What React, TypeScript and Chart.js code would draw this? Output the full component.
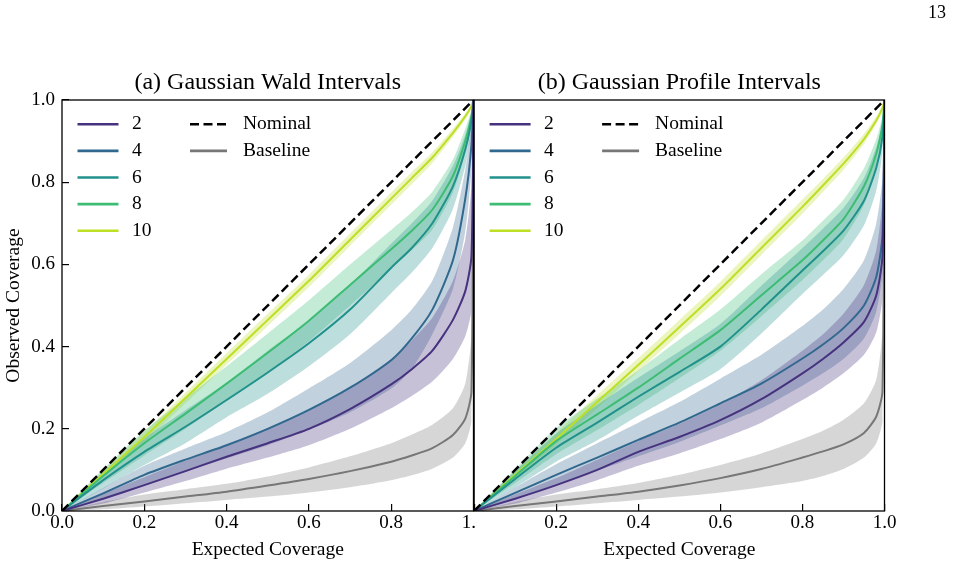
import React, { useEffect, useRef } from 'react';
import { Chart, registerables } from 'chart.js';

Chart.register(...registerables);

// Expected coverage grid shared by every curve
const EXPECTED = [0, 0.1, 0.2, 0.3, 0.4, 0.5, 0.6, 0.7, 0.8, 0.85, 0.9, 0.95, 0.98, 0.995, 1];

// (a) Gaussian Wald intervals: mean observed coverage and band edges
const WALD_2_MEAN = [0, 0.03, 0.063, 0.097, 0.132, 0.165, 0.2, 0.248, 0.308, 0.345, 0.39, 0.465, 0.535, 0.62, 1];
const WALD_2_LO = [0, 0.018, 0.045, 0.073, 0.103, 0.13, 0.16, 0.2, 0.25, 0.28, 0.315, 0.37, 0.425, 0.49, 0.92];
const WALD_2_HI = [0, 0.042, 0.082, 0.122, 0.162, 0.202, 0.245, 0.3, 0.37, 0.415, 0.47, 0.56, 0.66, 0.79, 1];

const WALD_4_MEAN = [0, 0.043, 0.088, 0.125, 0.16, 0.2, 0.246, 0.3, 0.367, 0.42, 0.49, 0.61, 0.76, 0.89, 1];
const WALD_4_LO = [0, 0.03, 0.064, 0.096, 0.128, 0.16, 0.197, 0.24, 0.298, 0.345, 0.43, 0.54, 0.68, 0.83, 1];
const WALD_4_HI = [0, 0.056, 0.11, 0.152, 0.192, 0.24, 0.298, 0.36, 0.44, 0.49, 0.56, 0.69, 0.83, 0.94, 1];

const WALD_6_MEAN = [0, 0.075, 0.144, 0.205, 0.27, 0.337, 0.408, 0.49, 0.592, 0.64, 0.7, 0.79, 0.88, 0.95, 1];
const WALD_6_LO = [0, 0.055, 0.112, 0.165, 0.228, 0.285, 0.352, 0.43, 0.53, 0.58, 0.64, 0.735, 0.84, 0.925, 1];
const WALD_6_HI = [0, 0.095, 0.176, 0.245, 0.312, 0.39, 0.462, 0.55, 0.65, 0.7, 0.755, 0.84, 0.915, 0.97, 1];

const WALD_8_MEAN = [0, 0.085, 0.165, 0.237, 0.31, 0.385, 0.463, 0.55, 0.637, 0.682, 0.733, 0.815, 0.9, 0.96, 1];
const WALD_8_LO = [0, 0.068, 0.135, 0.2, 0.268, 0.338, 0.413, 0.5, 0.59, 0.635, 0.685, 0.775, 0.87, 0.94, 1];
const WALD_8_HI = [0, 0.102, 0.195, 0.275, 0.352, 0.432, 0.513, 0.6, 0.684, 0.727, 0.777, 0.855, 0.93, 0.975, 1];

const WALD_10_MEAN = [0, 0.09, 0.18, 0.275, 0.37, 0.465, 0.56, 0.66, 0.76, 0.81, 0.86, 0.92, 0.96, 0.985, 1];
const WALD_10_LO = [0, 0.082, 0.168, 0.262, 0.356, 0.45, 0.545, 0.645, 0.745, 0.795, 0.847, 0.91, 0.953, 0.98, 1];
const WALD_10_HI = [0, 0.098, 0.193, 0.288, 0.384, 0.48, 0.575, 0.675, 0.775, 0.825, 0.873, 0.93, 0.967, 0.99, 1];

const WALD_BASE_MEAN = [0, 0.012, 0.023, 0.035, 0.047, 0.062, 0.078, 0.097, 0.12, 0.135, 0.153, 0.185, 0.225, 0.29, 1];
const WALD_BASE_LO = [0, 0.004, 0.011, 0.019, 0.027, 0.035, 0.045, 0.058, 0.075, 0.087, 0.103, 0.13, 0.165, 0.22, 0.85];
const WALD_BASE_HI = [0, 0.022, 0.04, 0.053, 0.066, 0.084, 0.106, 0.133, 0.165, 0.186, 0.21, 0.25, 0.31, 0.43, 1];

// (b) Gaussian profile intervals
const PROF_2_MEAN = [0, 0.03, 0.063, 0.1, 0.144, 0.18, 0.221, 0.272, 0.335, 0.37, 0.41, 0.46, 0.525, 0.62, 1];
const PROF_2_LO = [0, 0.018, 0.045, 0.075, 0.11, 0.14, 0.175, 0.215, 0.27, 0.3, 0.335, 0.38, 0.435, 0.52, 0.92];
const PROF_2_HI = [0, 0.04, 0.08, 0.125, 0.17, 0.212, 0.26, 0.318, 0.39, 0.43, 0.48, 0.55, 0.635, 0.76, 1];

const PROF_4_MEAN = [0, 0.044, 0.088, 0.13, 0.173, 0.215, 0.262, 0.31, 0.371, 0.405, 0.445, 0.5, 0.57, 0.67, 1];
const PROF_4_LO = [0, 0.03, 0.064, 0.098, 0.133, 0.168, 0.208, 0.25, 0.305, 0.335, 0.37, 0.42, 0.485, 0.58, 1];
const PROF_4_HI = [0, 0.058, 0.114, 0.165, 0.215, 0.265, 0.322, 0.38, 0.45, 0.49, 0.54, 0.61, 0.7, 0.81, 1];

const PROF_6_MEAN = [0, 0.078, 0.154, 0.215, 0.278, 0.338, 0.4, 0.49, 0.585, 0.632, 0.682, 0.755, 0.835, 0.91, 1];
const PROF_6_LO = [0, 0.058, 0.12, 0.172, 0.232, 0.288, 0.345, 0.432, 0.528, 0.574, 0.622, 0.695, 0.78, 0.875, 1];
const PROF_6_HI = [0, 0.098, 0.188, 0.258, 0.324, 0.388, 0.455, 0.548, 0.64, 0.687, 0.737, 0.81, 0.885, 0.945, 1];

const PROF_8_MEAN = [0, 0.085, 0.17, 0.235, 0.3, 0.37, 0.44, 0.525, 0.61, 0.658, 0.71, 0.79, 0.87, 0.94, 1];
const PROF_8_LO = [0, 0.068, 0.138, 0.197, 0.258, 0.323, 0.39, 0.474, 0.562, 0.61, 0.662, 0.745, 0.835, 0.915, 1];
const PROF_8_HI = [0, 0.102, 0.202, 0.273, 0.342, 0.417, 0.49, 0.576, 0.658, 0.706, 0.757, 0.834, 0.905, 0.96, 1];

const PROF_10_MEAN = [0, 0.088, 0.175, 0.265, 0.355, 0.447, 0.54, 0.64, 0.74, 0.792, 0.845, 0.905, 0.95, 0.98, 1];
const PROF_10_LO = [0, 0.08, 0.162, 0.25, 0.34, 0.43, 0.523, 0.623, 0.723, 0.776, 0.83, 0.893, 0.942, 0.975, 1];
const PROF_10_HI = [0, 0.097, 0.19, 0.282, 0.372, 0.465, 0.558, 0.658, 0.758, 0.808, 0.86, 0.918, 0.96, 0.986, 1];

const PROF_BASE_MEAN = [0, 0.012, 0.023, 0.035, 0.047, 0.062, 0.08, 0.102, 0.13, 0.145, 0.162, 0.19, 0.23, 0.29, 1];
const PROF_BASE_LO = [0, 0.004, 0.011, 0.019, 0.027, 0.035, 0.045, 0.058, 0.073, 0.085, 0.102, 0.13, 0.165, 0.22, 0.85];
const PROF_BASE_HI = [0, 0.022, 0.04, 0.053, 0.068, 0.088, 0.112, 0.14, 0.175, 0.195, 0.222, 0.262, 0.32, 0.44, 1];

const NOMINAL_X = [0, 1];
const NOMINAL_Y = [0, 1];

const SERIES_LABELS = ['2', '4', '6', '8', '10'];
const SERIES_COLORS = ['#46327e', '#31688e', '#21918c', '#3dbc74', '#bddf26'];
const BASELINE_COLOR = '#777777';

const TICK_VALUES = [0, 0.2, 0.4, 0.6, 0.8, 1];
const Y_TICK_LABELS = ['0.0', '0.2', '0.4', '0.6', '0.8', '1.0'];
const LEFT_X_TICK_LABELS = ['0.0', '0.2', '0.4', '0.6', '0.8', '1.0'];
const RIGHT_X_TICK_LABELS = ['', '0.2', '0.4', '0.6', '0.8', '1.0'];

const FONT = '"Liberation Serif", "Times New Roman", serif';

type Panel = {
  means: number[][];
  los: number[][];
  his: number[][];
  baseMean: number[];
  baseLo: number[];
  baseHi: number[];
};

const WALD: Panel = {
  means: [WALD_2_MEAN, WALD_4_MEAN, WALD_6_MEAN, WALD_8_MEAN, WALD_10_MEAN],
  los: [WALD_2_LO, WALD_4_LO, WALD_6_LO, WALD_8_LO, WALD_10_LO],
  his: [WALD_2_HI, WALD_4_HI, WALD_6_HI, WALD_8_HI, WALD_10_HI],
  baseMean: WALD_BASE_MEAN,
  baseLo: WALD_BASE_LO,
  baseHi: WALD_BASE_HI,
};

const PROFILE: Panel = {
  means: [PROF_2_MEAN, PROF_4_MEAN, PROF_6_MEAN, PROF_8_MEAN, PROF_10_MEAN],
  los: [PROF_2_LO, PROF_4_LO, PROF_6_LO, PROF_8_LO, PROF_10_LO],
  his: [PROF_2_HI, PROF_4_HI, PROF_6_HI, PROF_8_HI, PROF_10_HI],
  baseMean: PROF_BASE_MEAN,
  baseLo: PROF_BASE_LO,
  baseHi: PROF_BASE_HI,
};

function rgba(hex: string, a: number) {
  const n = parseInt(hex.slice(1), 16);
  return `rgba(${(n >> 16) & 255}, ${(n >> 8) & 255}, ${n & 255}, ${a})`;
}

function pts(xs: number[], ys: number[]) {
  return xs.map((x, i) => ({ x, y: ys[i] }));
}

function bandSets(lo: number[], hi: number[], mean: number[], color: string, label: string) {
  return [
    {
      label: label + ' lower',
      data: pts(EXPECTED, lo),
      borderWidth: 0,
      borderColor: 'rgba(0,0,0,0)',
      fill: false,
      order: 3,
    },
    {
      label: label + ' upper',
      data: pts(EXPECTED, hi),
      borderWidth: 0,
      borderColor: 'rgba(0,0,0,0)',
      backgroundColor: rgba(color, 0.3),
      fill: '-1',
      order: 3,
    },
    {
      label,
      data: pts(EXPECTED, mean),
      borderColor: color,
      borderWidth: 2,
      fill: false,
      order: 2,
    },
  ];
}

function buildDatasets(panel: Panel) {
  const sets: any[] = [];
  SERIES_LABELS.forEach((label, i) => {
    sets.push(...bandSets(panel.los[i], panel.his[i], panel.means[i], SERIES_COLORS[i], label));
  });
  sets.push(...bandSets(panel.baseLo, panel.baseHi, panel.baseMean, BASELINE_COLOR, 'Baseline'));
  sets.push({
    label: 'Nominal',
    data: pts(NOMINAL_X, NOMINAL_Y),
    borderColor: '#000000',
    borderWidth: 2.5,
    borderDash: [9, 4.5],
    fill: false,
    tension: 0,
    order: 1,
  });
  return sets;
}

const LEGEND_ITEMS = [
  ...SERIES_LABELS.map((label, i) => ({ label, color: SERIES_COLORS[i], dash: [] as number[], col: 0, row: i })),
  { label: 'Nominal', color: '#000000', dash: [9, 4.5], col: 1, row: 0 },
  { label: 'Baseline', color: BASELINE_COLOR, dash: [] as number[], col: 1, row: 1 },
];

// legend drawn inside the upper-left corner of the plot, two columns
const legendPlugin = {
  id: 'coverageLegend',
  afterDatasetsDraw(chart: any) {
    const { ctx, chartArea } = chart;
    const cols = [
      { x0: 15.5, x1: 56.5, tx: 70 },
      { x0: 128, x1: 165, tx: 181 },
    ];
    ctx.save();
    ctx.font = `19.5px ${FONT}`;
    ctx.textBaseline = 'middle';
    ctx.textAlign = 'left';
    for (const item of LEGEND_ITEMS) {
      const c = cols[item.col];
      const y = chartArea.top + 24.3 + item.row * 26.6;
      ctx.beginPath();
      ctx.setLineDash(item.dash);
      ctx.lineWidth = 2.6;
      ctx.lineCap = 'butt';
      ctx.strokeStyle = item.color;
      ctx.moveTo(chartArea.left + c.x0, y);
      ctx.lineTo(chartArea.left + c.x1, y);
      ctx.stroke();
      ctx.setLineDash([]);
      ctx.fillStyle = '#000000';
      ctx.fillText(item.label, chartArea.left + c.tx, y);
    }
    ctx.restore();
  },
};

// closed black frame around the plotting area
const framePlugin = {
  id: 'frame',
  afterDraw(chart: any) {
    const { ctx, chartArea } = chart;
    ctx.save();
    ctx.strokeStyle = '#000000';
    ctx.lineWidth = 1.3;
    ctx.strokeRect(chartArea.left, chartArea.top, chartArea.right - chartArea.left, chartArea.bottom - chartArea.top);
    ctx.restore();
  },
};

function makeOptions(opts: {
  title: string;
  xLabels: string[];
  showY: boolean;
  yWidth: number;
  padRight: number;
}) {
  const tickFont = { family: FONT, size: 19 };
  const labelFont = { family: FONT, size: 19.5 };
  const grid = {
    display: true,
    drawOnChartArea: false,
    drawTicks: true,
    tickLength: -7,
    color: '#000000',
    lineWidth: 1.2,
  };
  return {
    responsive: false,
    animation: false as const,
    devicePixelRatio: 1,
    events: [] as any[],
    layout: { padding: { left: 0, right: opts.padRight, top: 0, bottom: 0 } },
    elements: {
      point: { radius: 0 },
      line: { cubicInterpolationMode: 'default' as const, tension: 0.22 },
    },
    plugins: {
      legend: { display: false },
      tooltip: { enabled: false },
      title: {
        display: true,
        text: opts.title,
        fullSize: false,
        color: '#000000',
        font: { family: FONT, size: 24, weight: 'normal' as const, lineHeight: 1.2 },
        padding: { top: 68.6, bottom: 2.6 },
      },
    },
    scales: {
      x: {
        type: 'linear' as const,
        min: 0,
        max: 1,
        afterBuildTicks: (s: any) => {
          s.ticks = TICK_VALUES.map((v) => ({ value: v }));
        },
        afterFit: (s: any) => {
          s.height = 55;
        },
        ticks: {
          callback: (_v: any, i: number) => opts.xLabels[i],
          font: tickFont,
          color: '#000000',
          padding: 8.1,
          maxRotation: 0,
          minRotation: 0,
          autoSkip: false,
        },
        grid,
        border: { display: false },
        title: {
          display: true,
          text: 'Expected Coverage',
          color: '#000000',
          font: labelFont,
          padding: { top: 0, bottom: 4.8 },
        },
      },
      y: {
        type: 'linear' as const,
        min: 0,
        max: 1,
        afterBuildTicks: (s: any) => {
          s.ticks = TICK_VALUES.map((v) => ({ value: v }));
        },
        afterFit: (s: any) => {
          s.width = opts.yWidth;
        },
        ticks: {
          display: opts.showY,
          callback: (_v: any, i: number) => Y_TICK_LABELS[i],
          font: tickFont,
          color: '#000000',
          padding: 14,
          autoSkip: false,
        },
        grid: { ...grid, display: opts.showY },
        border: { display: false },
        title: {
          display: opts.showY,
          text: 'Observed Coverage',
          color: '#000000',
          font: labelFont,
          padding: { top: 2.3, bottom: 0 },
        },
      },
    },
  };
}

export default function App() {
  const leftRef = useRef<HTMLCanvasElement | null>(null);
  const rightRef = useRef<HTMLCanvasElement | null>(null);

  useEffect(() => {
    if (!leftRef.current || !rightRef.current) return;
    const left = new Chart(leftRef.current, {
      type: 'line',
      data: { datasets: buildDatasets(WALD) },
      options: makeOptions({
        title: '(a) Gaussian Wald Intervals',
        xLabels: LEFT_X_TICK_LABELS,
        showY: true,
        yWidth: 62,
        padRight: 26.5,
      }) as any,
      plugins: [legendPlugin, framePlugin],
    });
    const right = new Chart(rightRef.current, {
      type: 'line',
      data: { datasets: buildDatasets(PROFILE) },
      options: makeOptions({
        title: '(b) Gaussian Profile Intervals',
        xLabels: RIGHT_X_TICK_LABELS,
        showY: false,
        yWidth: 7,
        padRight: 68.5,
      }) as any,
      plugins: [legendPlugin, framePlugin],
    });
    return () => {
      left.destroy();
      right.destroy();
    };
  }, []);

  return (
    <div
      style={{
        position: 'fixed',
        left: 0,
        top: 0,
        width: 953,
        height: 566,
        background: '#ffffff',
        overflow: 'hidden',
      }}
    >
      <div
        style={{
          position: 'absolute',
          left: 0,
          top: 0,
          width: 500,
          height: 566,
          clipPath: 'polygon(0px 0px, 477px 0px, 477px 514px, 476px 514px, 476px 566px, 0px 566px)',
        }}
      >
        <canvas ref={leftRef} width={500} height={566} style={{ display: 'block' }} />
      </div>
      <canvas
        ref={rightRef}
        width={487}
        height={566}
        style={{ position: 'absolute', left: 466, top: 0, display: 'block' }}
      />
      <div
        style={{
          position: 'absolute',
          left: 928,
          top: 3,
          fontFamily: FONT,
          fontSize: 18,
          lineHeight: '18px',
          color: '#000000',
        }}
      >
        13
      </div>
    </div>
  );
}
